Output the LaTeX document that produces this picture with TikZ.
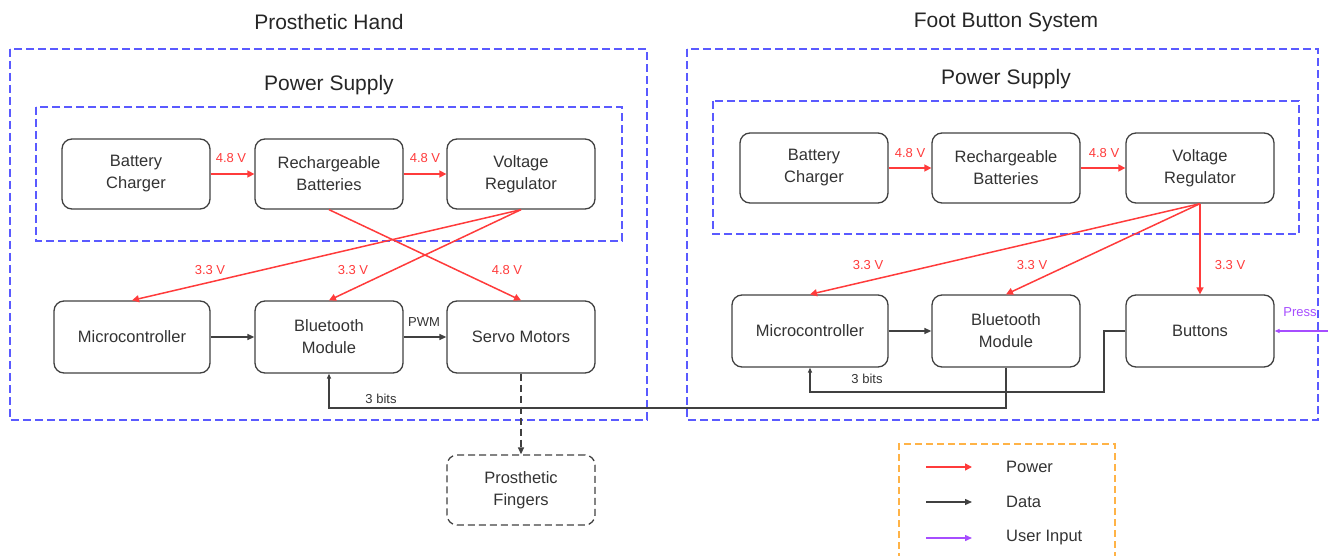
\documentclass[tikz,border=0pt]{standalone}
\usepackage{fontspec}
\setmainfont{Liberation Sans}
\usetikzlibrary{arrows.meta}
\definecolor{pred}{HTML}{FF3B3B}
\definecolor{pblue}{HTML}{5A5AFF}
\definecolor{porange}{HTML}{FFB347}
\definecolor{ppurple}{HTML}{A64DFF}
\definecolor{bgray}{HTML}{404040}
\definecolor{tgray}{HTML}{333333}
\tikzset{
 block/.style={draw=bgray, line width=1.3pt, rounded corners=10pt, minimum width=148pt, minimum height=70pt, align=center, text=tgray, font=\fontsize{16.5}{22}\selectfont, inner sep=0pt},
 wideblock/.style={minimum width=156pt},
 tallblock/.style={minimum height=72pt},
 container/.style={draw=pblue, line width=1.4pt, dash pattern=on 8pt off 4pt},
 power/.style={draw=pred, line width=1.5pt, -{Triangle[length=7pt,width=7pt]}},
 data/.style={draw=bgray, line width=1.3pt, -{Triangle[length=7pt,width=6pt]}},
 thin data/.style={draw=bgray, line width=1.3pt, -{Triangle[length=5pt,width=4pt]}},
 user/.style={draw=ppurple, line width=1.4pt, -{Triangle[length=5pt,width=4pt]}},
 vlabel/.style={text=pred, font=\fontsize{13}{15}\selectfont, inner sep=0pt},
 dlabel/.style={text=tgray, font=\fontsize{13}{15}\selectfont, inner sep=0pt},
 title/.style={font=\fontsize{21}{25}\selectfont, text=black!85, inner sep=0pt},
 legtext/.style={text=tgray, font=\fontsize{16.5}{20}\selectfont, anchor=west, inner sep=0pt},
}
\begin{document}
\begin{tikzpicture}[x=1pt,y=-1pt]
\useasboundingbox (0,0) rectangle (1328,556);

% ---------- Left: Prosthetic Hand ----------
\node[title] (tl) at (329,22) {Prosthetic Hand};
\draw[container] (10,49) rectangle (647,420);
\node[title] (psl) at (329,85) {Power Supply};
\draw[container] (36,107) rectangle (622,241);

\node[block] (lbc) at (136,174) {Battery\\Charger};
\node[block] (lrb) at (329,174) {Rechargeable\\Batteries};
\node[block] (lvr) at (521,174) {Voltage\\Regulator};
\node[block,wideblock,tallblock] (lmc) at (132,337) {Microcontroller};
\node[block,tallblock] (lbt) at (329,337) {Bluetooth\\Module};
\node[block,tallblock] (lsm) at (521,337) {Servo Motors};
\node[block,dashed,dash pattern=on 7pt off 4pt] (lpf) at (521,490) {Prosthetic\\Fingers};

\draw[power] (lbc) -- (lrb);
\draw[power] (lrb) -- (lvr);
\node[vlabel] (l48a) at (231,158) {4.8 V};
\node[vlabel] (l48b) at (425,158) {4.8 V};
\draw[power] (lvr.south) -- (lmc.north);
\draw[power] (lvr.south) -- (lbt.north);
\draw[power] (lrb.south) -- (lsm.north);
\node[vlabel] (l33a) at (210,270) {3.3 V};
\node[vlabel] (l33b) at (353,270) {3.3 V};
\node[vlabel] (l48c) at (507,270) {4.8 V};

\draw[data] (lmc) -- (lbt);
\draw[data] (lbt) -- (lsm);
\node[dlabel] (pwm) at (424,322) {PWM};
\draw[data,dash pattern=on 7pt off 4pt] (lsm.south) -- (lpf.north);

% ---------- Right: Foot Button System ----------
\node[title] (tr) at (1006,22) {Foot Button System};
\draw[container] (687,49) rectangle (1318,420);
\node[title] (psr) at (1006,79) {Power Supply};
\draw[container] (713,101) rectangle (1299,234);

\node[block] (rbc) at (814,168) {Battery\\Charger};
\node[block] (rrb) at (1006,168) {Rechargeable\\Batteries};
\node[block] (rvr) at (1200,168) {Voltage\\Regulator};
\node[block,wideblock,tallblock] (rmc) at (810,331) {Microcontroller};
\node[block,tallblock] (rbt) at (1006,331) {Bluetooth\\Module};
\node[block,tallblock] (rbn) at (1200,331) {Buttons};

\draw[power] (rbc) -- (rrb);
\draw[power] (rrb) -- (rvr);
\node[vlabel] (r48a) at (910,153) {4.8 V};
\node[vlabel] (r48b) at (1104,153) {4.8 V};
\draw[power] (rvr.south) -- (rmc.north);
\draw[power] (rvr.south) -- (rbt.north);
\draw[power] (rvr.south) -- (rbn.north);
\node[vlabel] (r33a) at (868,265) {3.3 V};
\node[vlabel] (r33b) at (1032,265) {3.3 V};
\node[vlabel] (r33c) at (1230,265) {3.3 V};

\draw[data] (rmc) -- (rbt);

% 3 bits links
\coordinate (ylow) at (0,408);
\draw[thin data] (rbt.south) -- (rbt.south |- ylow) -| (lbt.south);
\node[dlabel] (bitsl) at (381,399) {3 bits};
\coordinate (ymid) at (1104,392);
\draw[thin data] (rbn.west) -| (ymid) -| (rmc.south);
\node[dlabel] (bitsr) at (867,379) {3 bits};

% press
\coordinate (pressin) at (1328,331);
\draw[user] (pressin) -- (rbn.east);
\node[text=ppurple, font=\fontsize{13}{15}\selectfont, inner sep=0pt] (press) at (1300,312) {Press};

% ---------- Legend ----------
\draw[draw=porange, line width=1.3pt, dash pattern=on 7pt off 4pt] (899,560) -- (899,444) -- (1115,444) -- (1115,560);
\coordinate (lg1a) at (926,467); \coordinate (lg1b) at (972,467);
\coordinate (lg2a) at (926,502); \coordinate (lg2b) at (972,502);
\coordinate (lg3a) at (926,538); \coordinate (lg3b) at (972,538);
\draw[power] (lg1a) -- (lg1b);
\draw[data] (lg2a) -- (lg2b);
\draw[user,-{Triangle[length=7pt,width=6pt]}] (lg3a) -- (lg3b);
\node[legtext] (lgp) at (1006,467) {Power};
\node[legtext] (lgd) at (1006,502) {Data};
\node[legtext] (lgu) at (1006,538) {User Input};
\end{tikzpicture}
\end{document}
